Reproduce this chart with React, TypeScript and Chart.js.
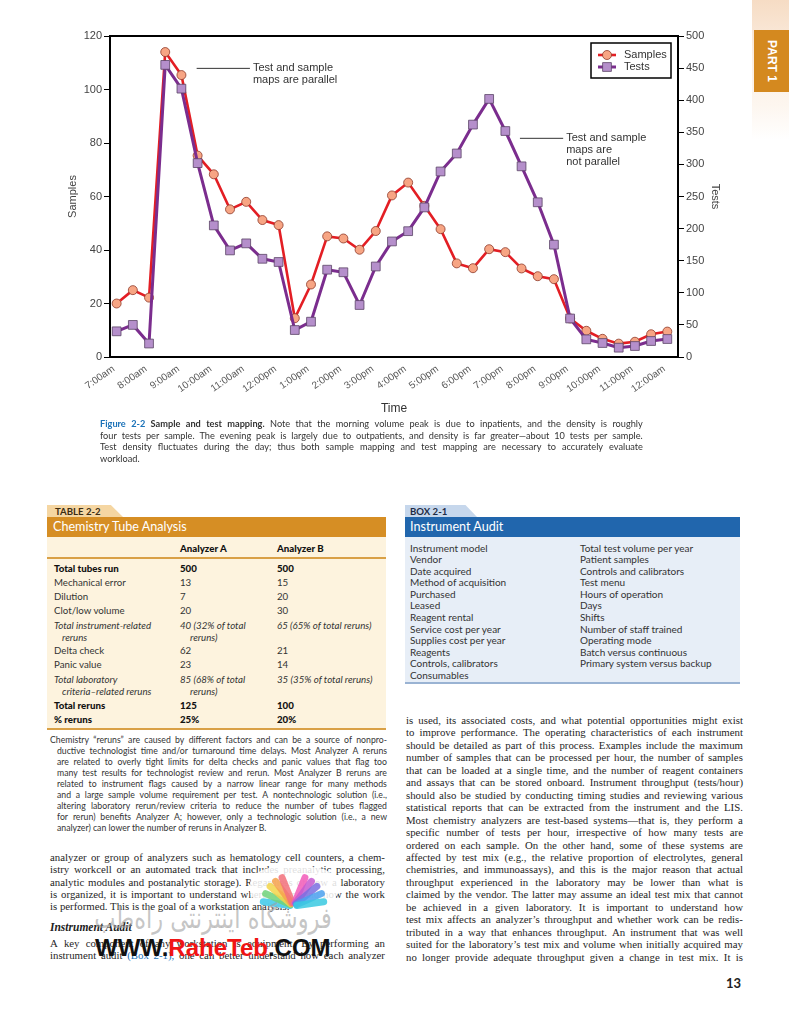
import React, { useEffect, useRef } from 'react';
import { Chart, registerables } from 'chart.js';

Chart.register(...registerables);

// ---------- chart data ----------
const times = [
  '7:00am', '7:30am', '8:00am', '8:30am', '9:00am', '9:30am', '10:00am', '10:30am',
  '11:00am', '11:30am', '12:00pm', '12:30pm', '1:00pm', '1:30pm', '2:00pm', '2:30pm',
  '3:00pm', '3:30pm', '4:00pm', '4:30pm', '5:00pm', '5:30pm', '6:00pm', '6:30pm',
  '7:00pm', '7:30pm', '8:00pm', '8:30pm', '9:00pm', '9:30pm', '10:00pm', '10:30pm',
  '11:00pm', '11:30pm', '12:00am',
];
const samplesValues = [
  20, 25, 22.2, 114, 105.4, 75.3, 68.3, 55.2, 58, 51.2, 49.3, 14.5, 27.1, 45.1, 44.3, 40.1, 47.1,
  60.4, 65.2, 56.5, 47.8, 35, 33.2, 40.3, 39.2, 33.1, 30.2, 29.1, 14.4, 9.8, 6.8, 5, 5.7, 8.5, 9.5,
];
const testsValues = [
  40, 50, 21, 455, 418, 302, 205, 166, 177, 153, 148, 42, 55, 136, 132, 81, 141,
  180, 196, 233, 289, 317, 362, 402, 352, 297, 241, 175, 60, 27.5, 21.8, 14.5, 17.1, 24.9, 28,
];
const samplesAxis = { min: 0, max: 120, step: 20 };
const testsAxis = { min: 0, max: 500, step: 50 };
const notes = [
  { from: 4.94, to: 8.23, at: 107.9, lines: ['Test and sample', 'maps are parallel'] },
  { from: 24.9, to: 27.57, at: 81.75, lines: ['Test and sample', 'maps are', 'not parallel'] },
];

const SANS = "'Liberation Sans', Arial, sans-serif";

const frameTopPlugin = {
  id: 'frameTop',
  beforeDatasetsDraw(chart: any) {
    const { ctx, chartArea } = chart;
    ctx.save();
    ctx.strokeStyle = '#000';
    ctx.lineWidth = 2;
    ctx.beginPath();
    ctx.moveTo(chartArea.left - 1, chartArea.top);
    ctx.lineTo(chartArea.right + 1, chartArea.top);
    ctx.stroke();
    ctx.restore();
  },
};

const notesPlugin = {
  id: 'notes',
  afterDraw(chart: any) {
    const { ctx } = chart;
    const xs = chart.scales.x;
    const ys = chart.scales.y;
    ctx.save();
    ctx.font = `11px ${SANS}`;
    ctx.fillStyle = '#333';
    ctx.strokeStyle = '#333';
    ctx.lineWidth = 1;
    ctx.textBaseline = 'middle';
    notes.forEach((n) => {
      const x1 = xs.getPixelForValue(n.from);
      const x2 = xs.getPixelForValue(n.to);
      const y = ys.getPixelForValue(n.at);
      ctx.beginPath();
      ctx.moveTo(x1, y);
      ctx.lineTo(x2, y);
      ctx.stroke();
      n.lines.forEach((t, i) => ctx.fillText(t, x2 + 3, y + i * 11.7));
    });
    ctx.restore();
  },
};

const legendPlugin = {
  id: 'boxLegend',
  afterDraw(chart: any) {
    const { ctx, chartArea } = chart;
    const w = 80;
    const h = 35;
    const x0 = chartArea.right - 7 - w;
    const y0 = chartArea.top + 7;
    ctx.save();
    ctx.fillStyle = '#fff';
    ctx.fillRect(x0, y0, w, h);
    ctx.strokeStyle = '#000';
    ctx.lineWidth = 1.5;
    ctx.strokeRect(x0, y0, w, h);
    chart.data.datasets.forEach((ds: any, i: number) => {
      const cy = y0 + 12 + i * 12;
      ctx.strokeStyle = ds.borderColor;
      ctx.lineWidth = ds.borderWidth;
      ctx.beginPath();
      ctx.moveTo(x0 + 7, cy);
      ctx.lineTo(x0 + 25, cy);
      ctx.stroke();
      ctx.fillStyle = ds.pointBackgroundColor;
      ctx.strokeStyle = ds.pointBorderColor;
      ctx.lineWidth = ds.pointBorderWidth;
      ctx.beginPath();
      if (ds.pointStyle === 'rect') {
        const s = ds.pointRadius * Math.SQRT1_2;
        ctx.rect(x0 + 16 - s, cy - s, 2 * s, 2 * s);
      } else {
        ctx.arc(x0 + 16, cy, ds.pointRadius, 0, Math.PI * 2);
      }
      ctx.fill();
      ctx.stroke();
      ctx.fillStyle = '#333';
      ctx.font = `11px ${SANS}`;
      ctx.textBaseline = 'middle';
      ctx.fillText(ds.label, x0 + 33, cy);
    });
    ctx.restore();
  },
};

function MappingChart() {
  const ref = useRef<HTMLCanvasElement>(null);
  useEffect(() => {
    if (!ref.current) return;
    const chart = new Chart(ref.current, {
      type: 'line',
      data: {
        datasets: [
          {
            label: 'Samples',
            data: samplesValues.map((v, i) => ({ x: i, y: v })),
            yAxisID: 'y',
            borderColor: '#e31e24',
            borderWidth: 2.6,
            pointStyle: 'circle',
            pointRadius: 4.5,
            pointBackgroundColor: '#f7a584',
            pointBorderColor: '#8e3a2a',
            pointBorderWidth: 0.8,
            order: 2,
          },
          {
            label: 'Tests',
            data: testsValues.map((v, i) => ({ x: i, y: v })),
            yAxisID: 'y1',
            borderColor: '#7b2d8e',
            borderWidth: 3,
            pointStyle: 'rect',
            pointRadius: 6.2,
            pointBackgroundColor: '#b58fcb',
            pointBorderColor: '#5b4466',
            pointBorderWidth: 0.8,
            order: 1,
          },
        ] as any,
      },
      options: {
        responsive: false,
        animation: false,
        events: [],
        layout: { padding: { left: 62, right: 63.4, top: 36, bottom: 0 } },
        plugins: { legend: { display: false }, tooltip: { enabled: false } },
        scales: {
          x: {
            type: 'linear',
            min: -0.41,
            max: 34.66,
            afterBuildTicks: (s: any) => {
              s.ticks = times
                .map((t, i) => ({ value: i, t }))
                .filter((o) => o.t.includes(':00'))
                .map((o) => ({ value: o.value }));
            },
            ticks: {
              autoSkip: false,
              minRotation: 35,
              maxRotation: 35,
              padding: 6,
              labelOffset: -3,
              color: '#555',
              font: { size: 10, family: SANS },
              callback: (v: any) => times[v],
            },
            grid: { display: false, drawTicks: false },
            border: { display: true, color: '#000', width: 2 },
            title: { display: true, text: 'Time', color: '#333', font: { size: 12, family: SANS } },
            afterFit: (s: any) => {
              s.height = 63;
            },
          } as any,
          y: {
            position: 'left',
            min: samplesAxis.min,
            max: samplesAxis.max,
            ticks: { stepSize: samplesAxis.step, padding: 2, color: '#444', font: { size: 11, family: SANS } },
            grid: { drawOnChartArea: false, drawTicks: true, tickLength: 6, color: '#000', lineWidth: 1 },
            border: { display: true, color: '#000', width: 2 },
            title: { display: true, text: 'Samples', color: '#444', font: { size: 11, family: SANS } },
            afterFit: (s: any) => {
              s.width = 48;
            },
          } as any,
          y1: {
            position: 'right',
            min: testsAxis.min,
            max: testsAxis.max,
            ticks: { stepSize: testsAxis.step, padding: 2, color: '#444', font: { size: 11, family: SANS } },
            grid: { drawOnChartArea: false, drawTicks: true, tickLength: 6, color: '#000', lineWidth: 1 },
            border: { display: true, color: '#000', width: 2 },
            title: { display: true, text: 'Tests', color: '#444', font: { size: 11, family: SANS } },
            afterFit: (s: any) => {
              s.width = 47.6;
            },
          } as any,
        },
      },
      plugins: [frameTopPlugin, notesPlugin, legendPlugin],
    });
    return () => chart.destroy();
  }, []);
  return (
    <canvas
      ref={ref}
      width={789}
      height={420}
      style={{ position: 'absolute', left: 0, top: 0, width: 789, height: 420 }}
    />
  );
}

// ---------- page text ----------
type Seg = { t: string; s?: React.CSSProperties };

function JLine(props: { x: number; cy: number; w: number; lh: number; segs: Seg[]; last?: boolean; style?: React.CSSProperties }) {
  const { x, cy, w, lh, segs, last, style } = props;
  if (last) {
    return (
      <div style={{ position: 'absolute', left: x, top: cy - lh / 2, lineHeight: lh + 'px', whiteSpace: 'pre', ...style }}>
        {segs.map((sg, i) => (
          <span key={i} style={sg.s}>{sg.t}{i < segs.length - 1 ? ' ' : ''}</span>
        ))}
      </div>
    );
  }
  const words: { w: string; s?: React.CSSProperties }[] = [];
  segs.forEach((sg) => sg.t.split(' ').filter(Boolean).forEach((wd) => words.push({ w: wd, s: sg.s })));
  return (
    <div
      style={{
        position: 'absolute', left: x, top: cy - lh / 2, width: w, height: lh, lineHeight: lh + 'px',
        display: 'flex', justifyContent: 'space-between', whiteSpace: 'nowrap', ...style,
      }}
    >
      {words.map((wd, i) => (
        <span key={i} style={wd.s}>{wd.w}</span>
      ))}
    </div>
  );
}

const BLUE = '#1b72b8';
const captionLines: Seg[][] = [
  [
    { t: 'Figure 2-2', s: { color: BLUE, fontWeight: 700 } },
    { t: 'Sample and test mapping.', s: { fontWeight: 700 } },
    { t: 'Note that the morning volume peak is due to inpatients, and the density is roughly' },
  ],
  [{ t: 'four tests per sample. The evening peak is largely due to outpatients, and density is far greater\u2014about 10 tests per sample.' }],
  [{ t: 'Test density fluctuates during the day; thus both sample mapping and test mapping are necessary to accurately evaluate' }],
  [{ t: 'workload.' }],
];

const footnoteLines = [
  'Chemistry \u201creruns\u201d are caused by different factors and can be a source of nonpro-',
  'ductive technologist time and/or turnaround time delays. Most Analyzer A reruns',
  'are related to overly tight limits for delta checks and panic values that flag too',
  'many test results for technologist review and rerun. Most Analyzer B reruns are',
  'related to instrument flags caused by a narrow linear range for many methods',
  'and a large sample volume requirement per test. A nontechnologic solution (i.e.,',
  'altering laboratory rerun/review criteria to reduce the number of tubes flagged',
  'for rerun) benefits Analyzer A; however, only a technologic solution (i.e., a new',
  'analyzer) can lower the number of reruns in Analyzer B.',
];

const tableRows = [
  { label: ['Total tubes run'], a: ['500'], b: ['500'], kind: 'bold', y: 567.7 },
  { label: ['Mechanical error'], a: ['13'], b: ['15'], kind: 'normal', y: 581.7 },
  { label: ['Dilution'], a: ['7'], b: ['20'], kind: 'normal', y: 596 },
  { label: ['Clot/low volume'], a: ['20'], b: ['30'], kind: 'normal', y: 610 },
  { label: ['Total instrument-related', 'reruns'], a: ['40 (32% of total', 'reruns)'], b: ['65 (65% of total reruns)'], kind: 'italic', y: 625 },
  { label: ['Delta check'], a: ['62'], b: ['21'], kind: 'normal', y: 650.3 },
  { label: ['Panic value'], a: ['23'], b: ['14'], kind: 'normal', y: 664.3 },
  { label: ['Total laboratory', 'criteria\u2013related reruns'], a: ['85 (68% of total', 'reruns)'], b: ['35 (35% of total reruns)'], kind: 'italic', y: 679.3 },
  { label: ['Total reruns'], a: ['125'], b: ['100'], kind: 'bold', y: 705 },
  { label: ['% reruns'], a: ['25%'], b: ['20%'], kind: 'bold', y: 719.3 },
];

const boxLeft = [
  'Instrument model', 'Vendor', 'Date acquired', 'Method of acquisition', 'Purchased', 'Leased',
  'Reagent rental', 'Service cost per year', 'Supplies cost per year', 'Reagents', 'Controls, calibrators', 'Consumables',
];
const boxRight = [
  'Total test volume per year', 'Patient samples', 'Controls and calibrators', 'Test menu', 'Hours of operation',
  'Days', 'Shifts', 'Number of staff trained', 'Operating mode', 'Batch versus continuous', 'Primary system versus backup',
];

const leftBodyA = [
  'analyzer or group of analyzers such as hematology cell counters, a chem-',
  'istry workcell or an automated track that includes preanalytic processing,',
  'analytic modules and postanalytic storage). Regardless of how a laboratory',
  'is organized, it is important to understand where, when, and how the work',
  'is performed. This is the goal of a workstation analysis.',
];

const rightBody = [
  'is used, its associated costs, and what potential opportunities might exist',
  'to improve performance. The operating characteristics of each instrument',
  'should be detailed as part of this process. Examples include the maximum',
  'number of samples that can be processed per hour, the number of samples',
  'that can be loaded at a single time, and the number of reagent containers',
  'and assays that can be stored onboard. Instrument throughput (tests/hour)',
  'should also be studied by conducting timing studies and reviewing various',
  'statistical reports that can be extracted from the instrument and the LIS.',
  'Most chemistry analyzers are test-based systems\u2014that is, they perform a',
  'specific number of tests per hour, irrespective of how many tests are',
  'ordered on each sample. On the other hand, some of these systems are',
  'affected by test mix (e.g., the relative proportion of electrolytes, general',
  'chemistries, and immunoassays), and this is the major reason that actual',
  'throughput experienced in the laboratory may be lower than what is',
  'claimed by the vendor. The latter may assume an ideal test mix that cannot',
  'be achieved in a given laboratory. It is important to understand how',
  'test mix affects an analyzer\u2019s throughput and whether work can be redis-',
  'tributed in a way that enhances throughput. An instrument that was well',
  'suited for the laboratory\u2019s test mix and volume when initially acquired may',
  'no longer provide adequate throughput given a change in test mix. It is',
];

const fanColors = ['#3cc8e8', '#6fd27a', '#f2d54a', '#f6a24c', '#f2707a', '#f25bb8', '#c65bd0', '#7a6fe0', '#4aa0ee', '#39c9e0'];
const fanAngles = [-82, -66, -50, -36, -22, 22, 36, 50, 66, 82];

const UI = "Lato, 'Open Sans', sans-serif";
const SERIF = "'Liberation Serif', 'Times New Roman', serif";

function abs(l: number, t: number, w: number, h: number, extra: React.CSSProperties = {}): React.CSSProperties {
  return { position: 'absolute', left: l, top: t, width: w, height: h, ...extra };
}

function TablePanel() {
  const txt: React.CSSProperties = { fontFamily: UI, fontSize: 9.7, color: '#333' };
  const line = (text: string, x: number, cy: number, st: React.CSSProperties, key: string) => (
    <div key={key} style={{ position: 'absolute', left: x, top: cy - 6, lineHeight: '12px', whiteSpace: 'nowrap', ...txt, ...st }}>{text}</div>
  );
  const kindStyle = (k: string): React.CSSProperties =>
    k === 'bold' ? { fontWeight: 900, color: '#111' } : k === 'italic' ? { fontStyle: 'italic' } : {};
  return (
    <>
      <div style={abs(47, 505, 76, 12, { background: '#f5d6a2', clipPath: 'polygon(0 0, 84% 0, 100% 100%, 0 100%)' })} />
      <div style={{ position: 'absolute', left: 55, top: 505, lineHeight: '13px', fontFamily: UI, fontSize: 9.6, fontWeight: 700, color: '#3b2c12' }}>TABLE 2-2</div>
      <div style={abs(47, 517, 339, 20, { background: '#d68e24' })} />
      <div style={{ position: 'absolute', left: 53, top: 517, lineHeight: '19px', fontFamily: UI, fontSize: 12.6, color: '#fff' }}>Chemistry Tube Analysis</div>
      <div style={abs(47, 537, 339, 193, { background: '#fdf3de' })} />
      <div style={abs(47, 557, 339, 2, { background: '#d9a046' })} />
      <div style={abs(47, 728, 339, 2, { background: '#d9a046' })} />
      {line('Analyzer A', 180, 547.7, { fontWeight: 900, color: '#111' }, 'ha')}
      {line('Analyzer B', 277, 547.7, { fontWeight: 900, color: '#111' }, 'hb')}
      {tableRows.map((r, i) => {
        const st = kindStyle(r.kind);
        const out: any[] = [];
        r.label.forEach((t, j) => out.push(line(t, j === 0 ? 54 : 62, r.y + j * 11.7, st, `l${i}${j}`)));
        r.a.forEach((t, j) => out.push(line(t, j === 0 ? 180 : 190, r.y + j * 11.7, st, `a${i}${j}`)));
        r.b.forEach((t, j) => out.push(line(t, 277, r.y + j * 11.7, st, `b${i}${j}`)));
        return out;
      })}
      {footnoteLines.map((t, i) => (
        <JLine key={i} x={i === 0 ? 50 : 57} cy={739 + i * 11} w={i === 0 ? 337 : 330} lh={11}
          segs={[{ t }]} last={i === footnoteLines.length - 1}
          style={{ fontFamily: UI, fontSize: 8.7, color: '#333' }} />
      ))}
    </>
  );
}

function BoxPanel() {
  const txt: React.CSSProperties = { fontFamily: UI, fontSize: 10, color: '#333' };
  return (
    <>
      <div style={abs(405, 505, 72, 12, { background: '#c6d7ec', clipPath: 'polygon(0 0, 84% 0, 100% 100%, 0 100%)' })} />
      <div style={{ position: 'absolute', left: 410, top: 505, lineHeight: '13px', fontFamily: UI, fontSize: 9.6, fontWeight: 700, color: '#1d2c44' }}>BOX 2-1</div>
      <div style={abs(405, 517, 335, 20, { background: '#2166ad' })} />
      <div style={{ position: 'absolute', left: 410, top: 517, lineHeight: '19px', fontFamily: UI, fontSize: 12.6, color: '#fff' }}>Instrument Audit</div>
      <div style={abs(405, 537, 335, 146, { background: '#e7eef7' })} />
      <div style={abs(405, 682, 335, 2, { background: '#9ab3d3' })} />
      {boxLeft.map((t, i) => (
        <div key={'l' + i} style={{ position: 'absolute', left: 410, top: 547.7 + i * 11.55 - 6, lineHeight: '12px', whiteSpace: 'nowrap', ...txt }}>{t}</div>
      ))}
      {boxRight.map((t, i) => (
        <div key={'r' + i} style={{ position: 'absolute', left: 580, top: 547.7 + i * 11.55 - 6, lineHeight: '12px', whiteSpace: 'nowrap', ...txt }}>{t}</div>
      ))}
    </>
  );
}

function Watermark() {
  return (
    <>
      <div style={abs(250, 866, 88, 42, { background: 'rgba(255,255,255,0.85)', borderRadius: '40%' })} />
      {fanColors.map((c, i) => (
        <div key={i} style={{
          position: 'absolute', left: 290, top: 872, width: 7, height: 34, borderRadius: 4, background: c, opacity: 0.85,
          transformOrigin: '50% 100%', transform: `rotate(${fanAngles[i]}deg)`,
        }} />
      ))}
      <div style={{
        position: 'absolute', left: 93, top: 902, width: 240, lineHeight: '32px', fontFamily: "'DejaVu Sans', sans-serif", fontSize: 22.5,
        color: 'rgba(160,160,160,0.6)', whiteSpace: 'nowrap', textAlign: 'center', direction: 'rtl',
        transform: 'scaleY(1.3)',
      }}>فروشگاه اینترنتی راه‌طب</div>
      <div style={{ position: 'absolute', left: 95, top: 931, lineHeight: '34px', fontFamily: SANS, fontSize: 24, fontWeight: 700, color: '#111', whiteSpace: 'nowrap' }}>
        WWW.<span style={{ color: '#f01414' }}>RaheTeb</span>.COM
      </div>
    </>
  );
}

export default function App() {
  const bodyStyle: React.CSSProperties = { fontFamily: SERIF, fontSize: 10.8, color: '#262626' };
  return (
    <div style={{ position: 'absolute', left: 0, top: 0, width: 789, height: 1010, overflow: 'hidden', background: '#fff' }}>
      <div style={abs(752, 0, 37, 140, { background: 'linear-gradient(#f6dcc4, #fbeee2 40%, #fdf6ef 75%, #fff)' })} />
      <div style={abs(754, 30, 35, 62, { background: '#d4891f' })} />
      <div style={{ position: 'absolute', left: 771.5, top: 61, transform: 'translate(-50%, -50%) rotate(90deg)', whiteSpace: 'nowrap', fontFamily: SANS, fontWeight: 700, fontSize: 12, color: '#fff' }}>PART 1</div>

      <MappingChart />

      {captionLines.map((segs, i) => (
        <JLine key={i} x={100} cy={424 + i * 11.6} w={543} lh={11.6} segs={segs} last={i === captionLines.length - 1}
          style={{ fontFamily: UI, fontSize: 9.2, color: '#333' }} />
      ))}

      <TablePanel />
      <BoxPanel />

      {leftBodyA.map((t, i) => (
        <JLine key={'la' + i} x={50} cy={857 + i * 12.4} w={335} lh={12.4} segs={[{ t }]} last={i === leftBodyA.length - 1} style={bodyStyle} />
      ))}
      <div style={{ position: 'absolute', left: 50, top: 927 - 7, lineHeight: '14px', fontFamily: SERIF, fontSize: 11.5, fontStyle: 'italic', fontWeight: 700, color: '#222' }}>Instrument Audit</div>
      <JLine x={50} cy={943} w={335} lh={12.4} segs={[{ t: 'A key component of any workstation is equipment. By performing an' }]} style={bodyStyle} />
      <JLine x={50} cy={955.4} w={335} lh={12.4}
        segs={[{ t: 'instrument audit' }, { t: '(Box 2-1),', s: { color: BLUE } }, { t: 'one can better understand how each analyzer' }]}
        style={bodyStyle} />

      {rightBody.map((t, i) => (
        <JLine key={'rb' + i} x={406} cy={720 + i * 12.47} w={337} lh={12.4} segs={[{ t }]} style={bodyStyle} />
      ))}

      <Watermark />

      <div style={{ position: 'absolute', left: 726, top: 975, lineHeight: '16px', fontFamily: UI, fontSize: 13, fontWeight: 700, color: '#222' }}>13</div>
    </div>
  );
}
